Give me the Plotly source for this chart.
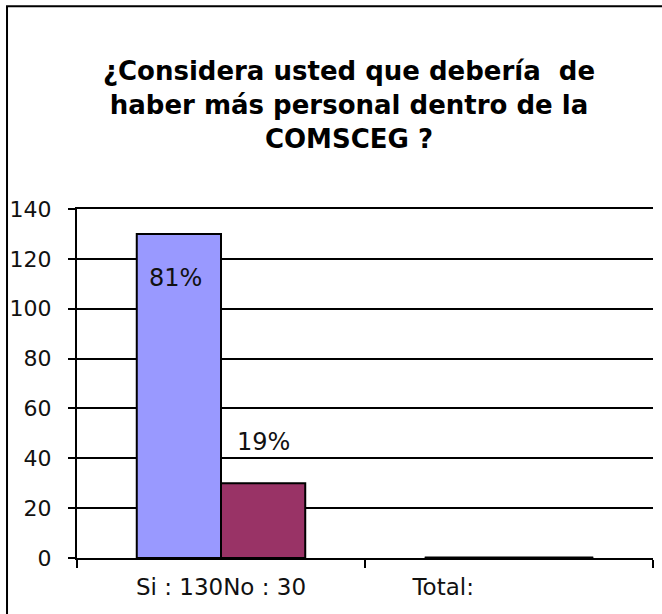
import plotly.graph_objects as go

# Data
categories = ["Si : 130No : 30", "Total:"]
series_names = ["Si", "No"]
si_values = [130, 0]
no_values = [30, 0]
pct_labels = ["81%", "19%"]
y_ticks = [0, 20, 40, 60, 80, 100, 120, 140]

tick_text = [categories[0], categories[1] + "\u00a0" * 18]

BLUE = "#9999FF"
MAROON = "#993366"
BARGAP = 0.415
FONT = "DejaVu Sans"

fig = go.Figure()
fig.add_trace(go.Bar(x=[0, 1], y=si_values, name=series_names[0],
                     marker=dict(color=BLUE, line=dict(color="black", width=2))))
fig.add_trace(go.Bar(x=[0, 1], y=no_values, name=series_names[1],
                     marker=dict(color=MAROON, line=dict(color="black", width=2))))

group_w = 1 - BARGAP
half_bar = group_w / 4

# percentage labels
fig.add_annotation(x=0 - half_bar, y=si_values[0], text=pct_labels[0], showarrow=False,
                   yshift=-44, xshift=-3, font=dict(family=FONT, size=24, color="#111"))
fig.add_annotation(x=0 + half_bar, y=no_values[0], text=pct_labels[1], showarrow=False,
                   yshift=41, font=dict(family=FONT, size=24, color="#111"))

# zero-height bars in "Total" group shown as their outline
fig.add_shape(type="line", xref="x", yref="y", x0=1 - group_w / 2, x1=1 + group_w / 2,
              y0=0, y1=0, line=dict(color="black", width=3))

# outer chart border (left and top edges visible within the frame)
fig.add_shape(type="rect", xref="paper", yref="paper", x0=-0.1215, x1=1.3,
              y0=-0.5, y1=1.581, line=dict(color="black", width=2),
              fillcolor="rgba(0,0,0,0)", layer="below")

fig.update_layout(
    width=662, height=614,
    margin=dict(l=77, r=9, t=209, b=56),
    paper_bgcolor="white", plot_bgcolor="white",
    barmode="group", bargap=BARGAP, bargroupgap=0,
    showlegend=False,
    font=dict(family=FONT, color="black"),
    title=dict(
        text="¿Considera usted que debería\u00a0 de<br>haber más personal dentro de la<br>COMSCEG ?",
        font=dict(family=FONT, size=26, color="black", weight="bold"),
        x=(349 - 77) / 576, xref="paper", xanchor="center",
        y=1 - 80 / 614, yref="container", yanchor="top",
    ),
    xaxis=dict(
        type="linear", range=[-0.5, 1.5],
        tickvals=[0, 1], ticktext=tick_text,
        showgrid=False, zeroline=False,
        showline=True, linecolor="black", linewidth=1.5, mirror=True,
        ticks="", ticklabelstandoff=8,
        tickfont=dict(family=FONT, size=23, color="#111"),
        minor=dict(tickvals=[-0.5, 0.5, 1.5], ticks="outside", ticklen=8,
                   tickcolor="black", tickwidth=1.5, showgrid=False),
    ),
    yaxis=dict(
        range=[0, 140], tickvals=y_ticks,
        showgrid=True, gridcolor="black", gridwidth=1.5,
        zeroline=False, showline=True, linecolor="black", linewidth=2,
        ticks="outside", ticklen=7, tickcolor="black", tickwidth=1.5,
        ticklabelstandoff=12,
        tickfont=dict(family=FONT, size=22, color="#111"),
    ),
)

fig.write_html("out.html", config={"displayModeBar": False},
               post_script="document.body.style.margin='0';")
